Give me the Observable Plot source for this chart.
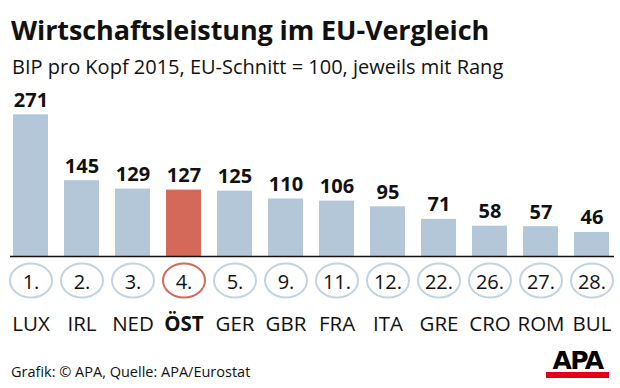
<!DOCTYPE html>
<html>
<head>
<meta charset="utf-8">
<script src="https://cdn.jsdelivr.net/npm/d3@7"></script>
<script src="https://cdn.jsdelivr.net/npm/@observablehq/plot@0.6"></script>
<style>
  html, body { margin: 0; padding: 0; background: #fff; }
  #wrap { position: relative; width: 620px; height: 388px; overflow: hidden; font-family: "Open Sans", sans-serif; color: #111; }
  #title { position: absolute; left: 11px; top: 12px; font-size: 27px; line-height: 36px; font-weight: 700; letter-spacing: -0.1px; white-space: nowrap; }
  #subtitle { position: absolute; left: 12px; top: 53px; font-size: 20px; line-height: 28px; font-weight: 400; letter-spacing: 0px; white-space: nowrap; }
  #chart { position: absolute; left: 0; top: 85px; }
  #footer { position: absolute; left: 11px; top: 362px; font-size: 14.5px; line-height: 20px; letter-spacing: 0px; white-space: nowrap; }
  #logo { position: absolute; left: 546px; top: 350px; width: 63px; }
  #logo .txt { font-family: "DejaVu Sans", sans-serif; font-weight: 700; font-size: 25px; line-height: 22px; letter-spacing: -1.5px; color: #000; text-align: center; }
  #logo .bar { height: 6px; background: #e2001a; margin-top: 0px; }
</style>
</head>
<body>
<div id="wrap">
  <div id="title">Wirtschaftsleistung im EU-Vergleich</div>
  <div id="subtitle">BIP pro Kopf 2015, EU-Schnitt = 100, jeweils mit Rang</div>
  <div id="chart"></div>
  <div id="footer">Grafik: © APA, Quelle: APA/Eurostat</div>
  <div id="logo"><div class="txt">APA</div><div class="bar"></div></div>
</div>
<script>
const countries = ["LUX","IRL","NED","ÖST","GER","GBR","FRA","ITA","GRE","CRO","ROM","BUL"];
const values = [271,145,129,127,125,110,106,95,71,58,57,46];
const ranks = ["1.","2.","3.","4.","5.","9.","11.","12.","22.","26.","27.","28."];
const highlight = "ÖST";

const data = countries.map((c, i) => ({country: c, value: values[i], rank: ranks[i], hi: c === highlight}));

const blue = "#b4c7d9";
const red = "#d4695a";
const ringBlue = "#c3d3e1";

const ellipse = {
  draw(ctx) {
    const rx = 21, ry = 17, k = 0.5523;
    ctx.moveTo(rx, 0);
    ctx.bezierCurveTo(rx, ry * k, rx * k, ry, 0, ry);
    ctx.bezierCurveTo(-rx * k, ry, -rx, ry * k, -rx, 0);
    ctx.bezierCurveTo(-rx, -ry * k, -rx * k, -ry, 0, -ry);
    ctx.bezierCurveTo(rx * k, -ry, rx, -ry * k, rx, 0);
    ctx.closePath();
  }
};

const chart = Plot.plot({
  width: 620,
  height: 260,
  marginLeft: 4,
  marginRight: 3,
  marginTop: 29.3,
  marginBottom: 89,
  style: {fontFamily: "Open Sans, sans-serif", color: "#111", background: "transparent"},
  x: {type: "band", domain: countries, paddingInner: 0.32, paddingOuter: 0.16, axis: null},
  y: {domain: [0, 271], axis: null},
  marks: [
    Plot.barY(data, {x: "country", y: "value", fill: d => d.hi ? red : blue}),
    Plot.ruleY([0], {stroke: "#111", strokeWidth: 1.6, insetLeft: 6, insetRight: 3}),
    Plot.text(data, {x: "country", y: "value", text: d => String(d.value), dy: -8, lineAnchor: "bottom", fontSize: 20, fontWeight: 700, fill: "#111"}),
    Plot.dot(data, {x: "country", y: () => 0, dy: 24, symbol: ellipse, r: 17, fill: "white", stroke: d => d.hi ? red : ringBlue, strokeWidth: 2}),
    Plot.text(data, {x: "country", y: () => 0, dy: 26, text: "rank", lineAnchor: "middle", fontSize: 20, fill: "#111"}),
    Plot.text(data.filter(d => !d.hi), {x: "country", y: () => 0, dy: 68, text: "country", lineAnchor: "middle", fontSize: 20.5, fill: "#111"}),
    Plot.text(data.filter(d => d.hi), {x: "country", y: () => 0, dy: 68, text: "country", lineAnchor: "middle", fontSize: 20.5, fontWeight: 700, fill: "#111"})
  ]
});
document.getElementById("chart").appendChild(chart);
</script>
</body>
</html>
